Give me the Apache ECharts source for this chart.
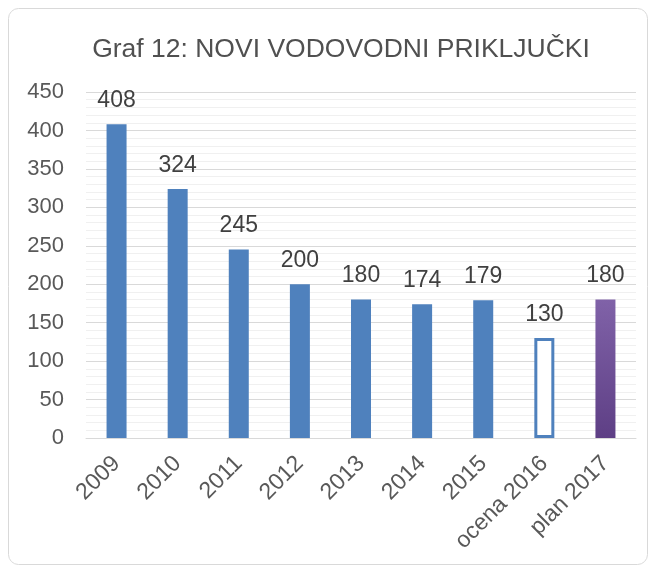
<!DOCTYPE html>
<html>
<head>
<meta charset="utf-8">
<script src="https://cdn.jsdelivr.net/npm/echarts@6/dist/echarts.min.js"></script>
<style>
  html, body { margin: 0; padding: 0; background: #fff; }
  #chart { width: 656px; height: 570px; }
</style>
</head>
<body>
<div id="chart"></div>
<script>
const categories = ['2009', '2010', '2011', '2012', '2013', '2014', '2015', 'ocena 2016', 'plan 2017'];
const values = [408, 324, 245, 200, 180, 174, 179, 130, 180];
const yTicks = { min: 0, max: 450, interval: 50 };

const blue = '#4F81BD';

// per-bar styles: normal, hollow estimate, purple plan
const barData = values.map((v, i) => {
  if (categories[i].startsWith('ocena')) {
    return { value: v, itemStyle: { color: '#fff', borderColor: blue, borderWidth: 3 } };
  }
  if (categories[i].startsWith('plan')) {
    return {
      value: v,
      itemStyle: {
        color: new echarts.graphic.LinearGradient(0, 0, 0, 1, [
          { offset: 0, color: '#8062A8' },
          { offset: 1, color: '#5E3F85' }
        ])
      }
    };
  }
  return { value: v, itemStyle: { color: blue } };
});

const chart = echarts.init(document.getElementById('chart'));
chart.setOption({
  animation: false,
  title: {
    text: 'Graf 12: NOVI VODOVODNI PRIKLJUČKI',
    left: 336, top: 31, textAlign: 'center',
    textStyle: { fontFamily: 'Liberation Sans', fontSize: 26.5, fontWeight: 'normal', color: '#505050' }
  },
  graphic: [{
    type: 'rect',
    shape: { x: 8.5, y: 8.5, width: 639, height: 556, r: 10 },
    style: { fill: 'none', stroke: '#d9d9d9', lineWidth: 1 },
    z: -1
  }],
  grid: { left: 86, right: 20, top: 92, bottom: 132 },
  xAxis: {
    type: 'category',
    data: categories,
    axisLine: { lineStyle: { color: '#d9d9d9', width: 1 } },
    axisTick: { show: false },
    axisLabel: {
      rotate: 45, interval: 0, margin: 22,
      fontFamily: 'Liberation Sans', fontSize: 23, color: '#595959'
    }
  },
  yAxis: {
    type: 'value',
    min: yTicks.min, max: yTicks.max, interval: yTicks.interval,
    axisLine: { show: false },
    axisTick: { show: false },
    axisLabel: { fontFamily: 'Liberation Sans', fontSize: 22, color: '#595959', margin: 22 },
    splitLine: { lineStyle: { color: '#d9d9d9', width: 1 } },
    minorTick: { show: false, splitNumber: 5 },
    minorSplitLine: { show: true, lineStyle: { color: '#f0f0f0', width: 1 } }
  },
  series: [{
    type: 'bar',
    data: barData,
    barWidth: 20,
    label: {
      show: true, position: 'top', distance: 12,
      fontFamily: 'Liberation Sans', fontSize: 23, color: '#404040'
    }
  }]
});
</script>
</body>
</html>
